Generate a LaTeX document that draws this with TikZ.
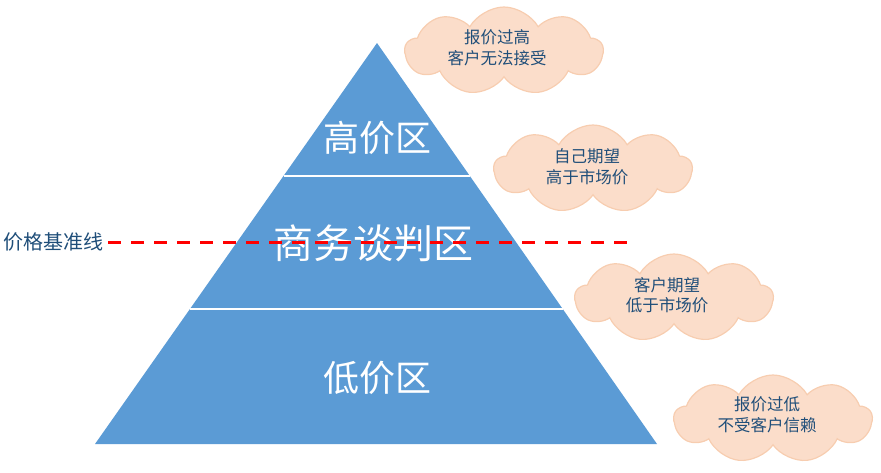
\documentclass[tikz,border=0pt]{standalone}
\usepackage{fontspec}
\setmainfont{Noto Sans CJK SC}
\usetikzlibrary{shapes.symbols}
\definecolor{pyr}{HTML}{5B9BD5}
\definecolor{cloudfill}{HTML}{FBDDCA}
\definecolor{cloudline}{HTML}{F7CDB0}
\definecolor{txtblue}{HTML}{1F4E79}
\tikzset{
  puff/.style={cloud, cloud puffs=9, cloud puff arc=120, aspect=2.2,
    fill=cloudfill, draw=cloudline, line width=1.2pt,
    minimum width=198pt, minimum height=88pt, inner sep=0pt},
  cloudtext/.style={text=txtblue, font=\fontsize{16.5}{20.5}\selectfont, align=center},
  pyrtext/.style={text=white, font=\fontsize{36}{40}\selectfont},
  sepline/.style={draw=white, line width=1.5pt}
}
\begin{document}
\begin{tikzpicture}[x=1pt,y=-1pt]
\useasboundingbox (0,0) rectangle (881,472);
% pyramid
\fill[pyr] (377,43) -- (657,444) -- (95,444) -- cycle;
\coordinate (s1l) at (283.5,176);
\coordinate (s1r) at (470,176);
\coordinate (s2l) at (190,309);
\coordinate (s2r) at (563,309);
\draw[sepline] (s1l) -- (s1r);
\draw[sepline] (s2l) -- (s2r);
\node[pyrtext] (high) at (377,138) {高价区};
\node[pyrtext, font=\fontsize{40}{44}\selectfont] (mid) at (373,243) {商务谈判区};
\node[pyrtext] (low) at (377,378) {低价区};
% baseline
\node[text=txtblue, font=\fontsize{20}{22}\selectfont, anchor=west, inner sep=0pt] (lbl) at (3,242) {价格基准线};
\coordinate (dend) at (627,242);
\draw[red, line width=3pt, dash pattern=on 13pt off 10pt, shorten <=5pt] (lbl.east) -- (dend);
% clouds
\node[puff] (c1) at (504,51) {};
\node[cloudtext] (t1) at (497,48) {报价过高\\客户无法接受};
\node[puff] (c2) at (593,169) {};
\node[cloudtext] (t2) at (587,167) {自己期望\\高于市场价};
\node[puff] (c3) at (674,298) {};
\node[cloudtext] (t3) at (667,295) {客户期望\\低于市场价};
\node[puff] (c4) at (773,419) {};
\node[cloudtext] (t4) at (767,415) {报价过低\\不受客户信赖};
\end{tikzpicture}
\end{document}
